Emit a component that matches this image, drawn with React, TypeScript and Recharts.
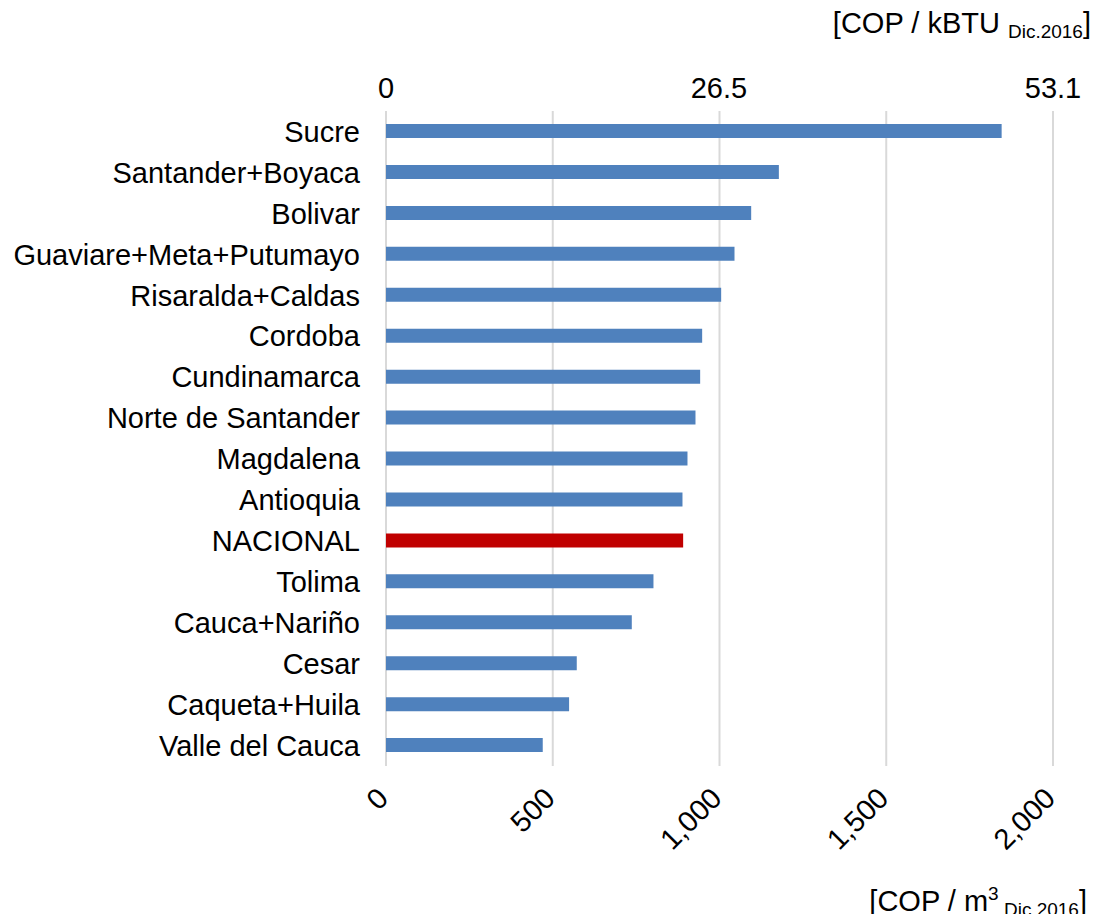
import React from 'react';
import { BarChart, Bar, XAxis, YAxis, CartesianGrid, Cell } from 'recharts';

const categories = [
  'Sucre',
  'Santander+Boyaca',
  'Bolivar',
  'Guaviare+Meta+Putumayo',
  'Risaralda+Caldas',
  'Cordoba',
  'Cundinamarca',
  'Norte de Santander',
  'Magdalena',
  'Antioquia',
  'NACIONAL',
  'Tolima',
  'Cauca+Nariño',
  'Cesar',
  'Caqueta+Huila',
  'Valle del Cauca',
];
const values = [1846, 1178, 1095, 1045, 1005, 948, 942, 928, 904, 889, 891, 802, 737, 572, 549, 470];
const bottomTicks = [0, 500, 1000, 1500, 2000];
const bottomMax = 2000;
const topTicks = [0, 26.5, 53.1];
const topMax = 53.1;
const highlightCategory = 'NACIONAL';

const data = categories.map((name, i) => ({ name, value: values[i] }));

const FONT = '"Liberation Sans", Arial, sans-serif';
const BLUE = '#4f81bd';
const RED = '#c00000';
const FS = 29;

const fmt = (v: number) => v.toLocaleString('en-US');

const BottomTick = (props: any) => {
  const { x, y, payload } = props;
  const ax = x + 4;
  const ay = y + 34;
  return (
    <text
      x={ax}
      y={ay}
      textAnchor="end"
      fontSize={FS}
      fontFamily={FONT}
      fill="#000"
      transform={`rotate(-45, ${ax}, ${ay})`}
    >
      {fmt(payload.value)}
    </text>
  );
};

export default function App() {
  return (
    <div style={{ position: 'relative', width: 1085, height: 906, fontFamily: FONT }}>
      <BarChart
        width={1085}
        height={906}
        data={data}
        layout="vertical"
        margin={{ top: 0, right: 40, left: 0, bottom: 48 }}
        barCategoryGap={0}
      >
        <CartesianGrid horizontal={false} vertical={true} stroke="#d9d9d9" strokeWidth={2} xAxisId="bottom" />
        <XAxis
          xAxisId="top"
          orientation="top"
          type="number"
          domain={[0, topMax]}
          ticks={topTicks}
          allowDataOverflow
          height={103}
          axisLine={false}
          tickLine={false}
          tickSize={0}
          tickMargin={13}
          tick={{ fontSize: FS, fill: '#000', fontFamily: FONT }}
          interval={0}
        />
        <XAxis
          xAxisId="bottom"
          orientation="bottom"
          type="number"
          domain={[0, bottomMax]}
          ticks={bottomTicks}
          height={100}
          axisLine={false}
          tickLine={false}
          tickSize={0}
          tickMargin={0}
          tick={<BottomTick />}
          interval={0}
        />
        <YAxis
          type="category"
          dataKey="name"
          width={378}
          axisLine={false}
          tickLine={false}
          tickSize={0}
          tickMargin={26}
          interval={0}
          tick={{ fontSize: FS, fill: '#000', fontFamily: FONT }}
        />
        <Bar dataKey="value" xAxisId="bottom" barSize={14} isAnimationActive={false}>
          {data.map((d) => (
            <Cell key={d.name} fill={d.name === highlightCategory ? RED : BLUE} />
          ))}
        </Bar>
      </BarChart>
      <svg
        width={1085}
        height={912}
        style={{ position: 'absolute', left: 0, top: 0, pointerEvents: 'none', overflow: 'visible' }}
      >
        <text x={1083} y={25} textAnchor="end" fontSize={FS} fontFamily={FONT} fill="#000">
          [COP / kBTU <tspan fontSize={19} dy={5}>Dic.2016</tspan>
          <tspan dy={-5}>]</tspan>
        </text>
        <text x={1079} y={903} textAnchor="end" fontSize={FS} fontFamily={FONT} fill="#000">
          [COP / m<tspan fontSize={19} dy={-11}>3</tspan>
          <tspan fontSize={19} dy={16}> Dic.2016</tspan>
          <tspan dy={-5}>]</tspan>
        </text>
      </svg>
    </div>
  );
}
